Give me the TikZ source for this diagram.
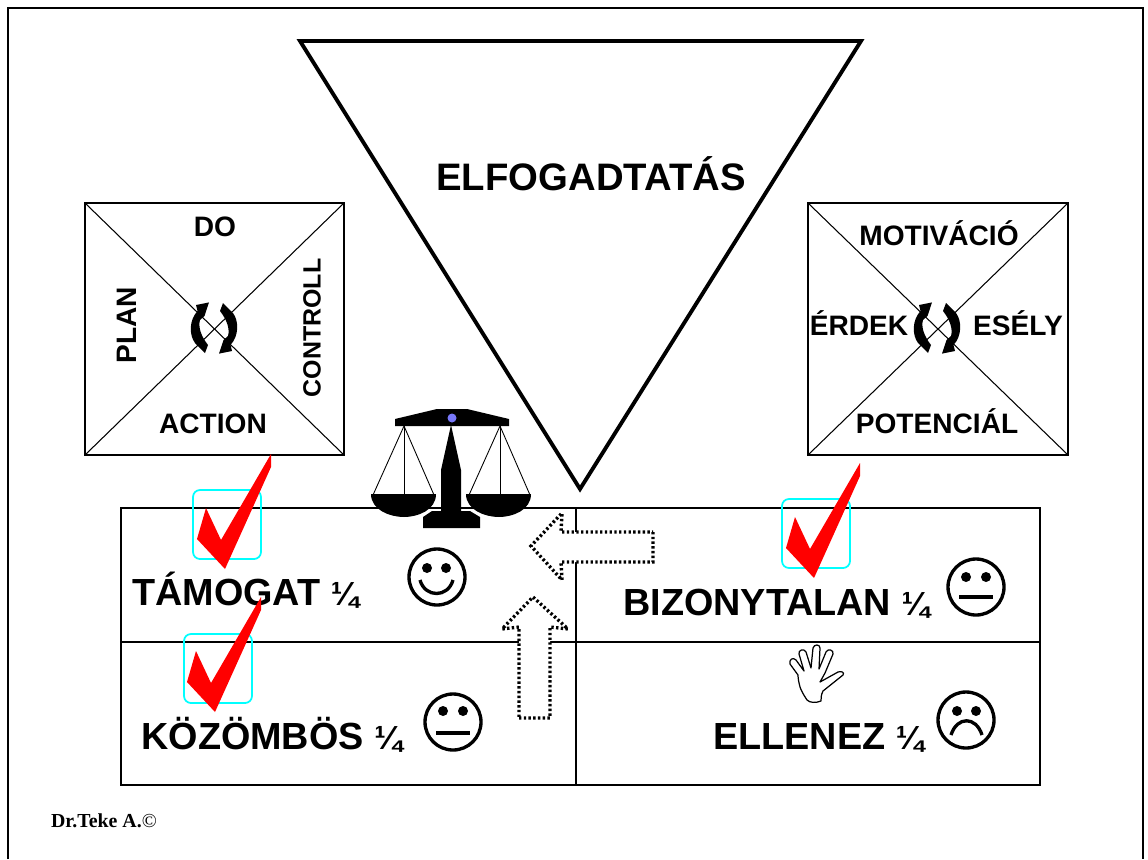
\documentclass[tikz,border=0pt]{standalone}
\usepackage{fontspec}
\setmainfont{Liberation Sans}
\newfontfamily\serifbold[BoldFont={Liberation Serif Bold}]{Liberation Serif}
\usetikzlibrary{positioning}
\definecolor{framecyan}{RGB}{0,255,255}
\definecolor{pinblue}{RGB}{120,120,250}
\definecolor{checkred}{RGB}{255,0,0}
\newcommand{\quarter}{{\fontsize{19}{20}\selectfont ¼}}
\tikzset{
  thin line/.style={draw=black, line width=0.6pt},
  label text/.style={font=\bfseries\fontsize{16}{18}\selectfont, inner sep=0pt},
  row text/.style={font=\bfseries\fontsize{21.5}{24}\selectfont, inner sep=0pt, anchor=base west},
  check frame/.style={draw=framecyan, line width=1pt, rounded corners=4pt},
  check mark/.style={fill=checkred},
  face/.style={draw=black, line width=1.9pt},
  face eye/.style={fill=black},
  dotted arrow/.style={draw=black, line width=1.9pt, dash pattern=on 1.35pt off 1.35pt, fill=white},
  scale part/.style={fill=black},
  scale string/.style={draw=black, line width=0.5pt}
}
\begin{document}
\begin{tikzpicture}[x=0.02cm, y=-0.02cm]
  \useasboundingbox (0,0) rectangle (1148,859);
  % Keret
  \draw[line width=1.1pt] (8,859) -- (8,8) -- (1143,8) -- (1143,859);

  % Haromszog
  \coordinate (triA) at (300,41);
  \coordinate (triB) at (861,41);
  \coordinate (triC) at (580,489);
  \draw[line width=2.2pt, miter limit=10] (triA) -- (triB) -- (triC) -- cycle;
  \node (accept) at (591,174) [label text, font=\bfseries\fontsize{21.8}{24}\selectfont] {ELFOGADTATÁS};

  % Bal negyzet
  \coordinate (leftA) at (85,203);
  \coordinate (leftB) at (344,203);
  \coordinate (leftC) at (344,455);
  \coordinate (leftD) at (85,455);
  \draw[thin line] (leftA) -- (leftB) -- (leftC) -- (leftD) -- cycle;
  \draw[thin line] (leftA) -- (leftC);
  \draw[thin line] (leftB) -- (leftD);
  \node (do) at (215,227) [label text] {DO};
  \node (plan) at (127,325) [label text, rotate=90] {PLAN};
  \node (controll) at (312,328) [label text, rotate=90, font=\bfseries\fontsize{14.2}{16}\selectfont] {CONTROLL};
  \node (action) at (213,424) [label text] {ACTION};

  % Jobb negyzet
  \coordinate (rightA) at (808,203);
  \coordinate (rightB) at (1068,203);
  \coordinate (rightC) at (1068,455);
  \coordinate (rightD) at (808,455);
  \draw[thin line] (rightA) -- (rightB) -- (rightC) -- (rightD) -- cycle;
  \draw[thin line] (rightA) -- (rightC);
  \draw[thin line] (rightB) -- (rightD);
  \node (motiv) at (939,233) [label text] {MOTIVÁCIÓ};
  \node (erdek) at (859,323) [label text] {ÉRDEK};
  \node (esely) at (1018,323) [label text] {ESÉLY};
  \node (potenc) at (937,421) [label text] {POTENCIÁL};

  % Korbenyilak
  \foreach \cx in {214,937} {
    \foreach \ang in {0,180} {
      \begin{scope}[shift={(\cx,328)}, rotate=\ang]
        \fill (-5,-25.6) -- (-18,-23) -- (-16.5,-17) .. controls (-25,-8) and (-25,7) .. (-19,15)
          -- (-9,25) -- (-6,17) .. controls (-13,8) and (-16,-1) .. (-14,-8) -- (-9.5,-12) -- cycle;
      \end{scope}
    }
  }

  % Tabla
  \coordinate (tabA) at (121,508);
  \coordinate (tabB) at (1040,508);
  \coordinate (tabC) at (1040,785);
  \coordinate (tabD) at (121,785);
  \coordinate (midT) at (576,508);
  \coordinate (midB) at (576,785);
  \coordinate (midL) at (121,642);
  \coordinate (midR) at (1040,642);
  \draw[thin line] (tabA) -- (tabB) -- (tabC) -- (tabD) -- cycle;
  \draw[thin line] (midT) -- (midB);
  \draw[thin line] (midL) -- (midR);

  % Szovegek
  \node (tam) at (132,605) [row text] {TÁMOGAT \quarter};
  \node (biz) at (623,615) [row text] {BIZONYTALAN \quarter};
  \node (koz) at (141,749) [row text] {KÖZÖMBÖS \quarter};
  \node (ell) at (713,749) [row text] {ELLENEZ \quarter};

  % Arcok
  \draw[face] (437,577) circle (28);
  \fill[face eye] (427,568) circle (5) (446,568) circle (5);
  \draw[face] (420,580) .. controls (425,598) and (448,598) .. (453,580);
  \draw[face] (976,587) circle (28);
  \fill[face eye] (966,577) circle (5) (986,577) circle (5);
  \draw[face] (959,597) -- (993,597);
  \draw[face] (453,722) circle (28);
  \fill[face eye] (443,711) circle (5) (463,711) circle (5);
  \draw[face] (436,733) -- (470,733);
  \draw[face] (966,720) circle (28);
  \fill[face eye] (957,711) circle (5) (976,711) circle (5);
  \draw[face] (951,735) .. controls (957,716) and (976,716) .. (982,735);

  % Kez
  \draw[line width=0.7pt, fill=white, line join=round] (807,700)
    .. controls (803,694) and (801,690) .. (800,687)
    .. controls (799,683) and (798,679) .. (798,675)
    -- (790,664) .. controls (789,659) and (793,657) .. (796,660)
    -- (804,671) -- (799,654) .. controls (798,650) and (804,648) .. (806,652)
    -- (811,668) -- (813,648) .. controls (814,644) and (820,644) .. (820,648)
    -- (819,669) -- (826,652) .. controls (828,648) and (834,650) .. (833,654)
    -- (825,673) -- (820,682) -- (838,672) .. controls (841,671) and (845,672) .. (843,675)
    -- (823,691) .. controls (821,695) and (821,698) .. (821,701)
    .. controls (816,703) and (810,703) .. (807,700) -- cycle;

  % Merleg
  \fill[scale part] (395,426) -- (395,419) -- (437,409) -- (467,409) -- (509,419) -- (509,426) -- cycle;
  \fill[scale part] (451,425) -- (461,470) -- (461,511) -- (470,511) -- (480,517) -- (480,528)
    -- (423,528) -- (423,517) -- (432,511) -- (441,511) -- (441,470) -- cycle;
  \fill[pinblue] (452,418) circle (4.5);
  \draw[scale string] (373,495) -- (404,426) -- (434,495);
  \draw[scale string] (404,426) -- (404,495);
  \draw[scale string] (469,495) -- (500,426) -- (530,495);
  \draw[scale string] (500,426) -- (500,495);
  \fill[scale part] (371,494) -- (436,494) .. controls (436,510) and (418,517) .. (404,517)
    .. controls (390,517) and (371,510) .. (371,494) -- cycle;
  \fill[scale part] (466,494) -- (531,494) .. controls (531,510) and (513,517) .. (499,517)
    .. controls (485,517) and (466,510) .. (466,494) -- cycle;

  % Pottyozott nyilak
  \draw[dotted arrow] (653,532) -- (653,562) -- (561,562) -- (562,580) -- (531,546) -- (562,513) -- (561,532) -- cycle;
  \draw[dotted arrow] (519,718) -- (550,718) -- (550,627) -- (568,629) -- (533,597) -- (502,629) -- (519,627) -- cycle;

  % Pipak
  \foreach \fx/\fy in {193/490, 782/499, 184/634} {
    \draw[check frame] (\fx,\fy) rectangle ++(68,69);
  }
  \foreach \cx/\cy in {0/0, 589/9, -10/143} {
    \begin{scope}[shift={(\cx,\cy)}]
      \fill[check mark] (271,454) -- (271,467) -- (225,569) -- (197,539) -- (206,508) -- (221,540) -- cycle;
    \end{scope}
  }

  \node (copyr) at (104,821) [inner sep=0pt, font=\serifbold\bfseries\fontsize{11.3}{12}\selectfont] {Dr.Teke A.{\mdseries ©}};
\end{tikzpicture}
\end{document}
